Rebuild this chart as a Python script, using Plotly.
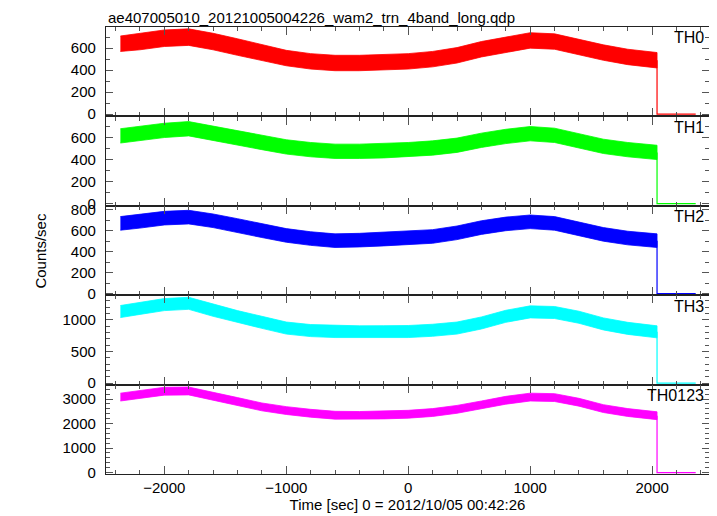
import plotly.graph_objects as go
from plotly.subplots import make_subplots

# ---- data ----
t = [-2360, -2200, -2000, -1800, -1600, -1400, -1200, -1000, -800, -600, -400, -200,
     0, 200, 400, 600, 800, 1000, 1200, 1400, 1600, 1800, 2040]

th0_hi = [710, 735, 765, 775, 735, 685, 635, 580, 550, 535, 535, 540, 550, 570, 605, 660, 700, 740, 730, 680, 630, 590, 560]
th0_lo = [570, 585, 615, 625, 585, 535, 485, 440, 410, 395, 395, 400, 410, 430, 465, 520, 560, 600, 590, 540, 490, 450, 420]

th1_hi = [680, 700, 730, 745, 705, 660, 620, 580, 555, 540, 540, 545, 555, 570, 595, 640, 675, 700, 685, 635, 585, 555, 530]
th1_lo = [550, 570, 600, 615, 575, 530, 490, 450, 425, 410, 410, 415, 425, 440, 465, 510, 545, 570, 555, 505, 455, 425, 400]

th2_hi = [735, 755, 785, 795, 760, 715, 665, 620, 590, 570, 575, 585, 595, 610, 645, 695, 730, 750, 735, 680, 630, 595, 570]
th2_lo = [605, 625, 655, 665, 630, 585, 535, 490, 460, 440, 445, 455, 465, 480, 515, 565, 600, 620, 605, 550, 500, 465, 440]

th3_hi = [1225, 1275, 1335, 1355, 1245, 1145, 1055, 965, 925, 910, 905, 907, 910, 930, 965, 1045, 1150, 1220, 1210, 1135, 1030, 960, 905]
th3_lo = [1035, 1085, 1145, 1165, 1055, 955, 865, 775, 735, 720, 715, 717, 720, 740, 775, 855, 960, 1030, 1020, 945, 840, 770, 715]

th0123_hi = [3240, 3360, 3480, 3490, 3290, 3060, 2840, 2690, 2580, 2500, 2490, 2510, 2540, 2610, 2740, 2920, 3110, 3240, 3220, 3030, 2770, 2610, 2480]
th0123_lo = [2920, 3040, 3160, 3170, 2970, 2740, 2520, 2370, 2260, 2180, 2170, 2190, 2220, 2290, 2420, 2600, 2790, 2920, 2900, 2710, 2450, 2290, 2160]

# end of the light curve: drop to zero after the last bin
t_tail = [2040, 2040, 2357]
th0_tail = [490, 0, 0]
th1_tail = [465, 0, 0]
th2_tail = [505, 0, 0]
th3_tail = [810, 0, 0]
th0123_tail = [2320, 0, 0]

names = ["TH0", "TH1", "TH2", "TH3", "TH0123"]
his = [th0_hi, th1_hi, th2_hi, th3_hi, th0123_hi]
los = [th0_lo, th1_lo, th2_lo, th3_lo, th0123_lo]
tails = [th0_tail, th1_tail, th2_tail, th3_tail, th0123_tail]
colors = ["#ff0000", "#00ff00", "#0000ff", "#00ffff", "#ff00ff"]

y_ranges = [[-20, 792], [-20, 792], [-16, 838], [-22, 1388], [-60, 3590]]
y_dtick = [200, 200, 200, 500, 1000]
y_minor = [100, 100, 100, 100, 200]

FONT = "Liberation Sans"

# the page body adds an 8 px margin, so the figure is sized 8 px smaller
W, H = 709, 508
ML, MR, MT, MB = 98, 7, 19, 40

fig = make_subplots(rows=5, cols=1, shared_xaxes=True, vertical_spacing=0)

for i in range(5):
    r = i + 1
    fig.add_trace(go.Scatter(
        x=t + t[::-1], y=his[i] + los[i][::-1], fill="toself", mode="lines",
        line=dict(color=colors[i], width=0.8), fillcolor=colors[i],
        hoverinfo="skip", showlegend=False), row=r, col=1)
    fig.add_trace(go.Scatter(
        x=t_tail, y=tails[i], mode="lines",
        line=dict(color=colors[i], width=1.2), showlegend=False), row=r, col=1)
    fig.update_yaxes(
        range=y_ranges[i], dtick=y_dtick[i], tick0=0,
        ticks="inside", ticklen=7, tickwidth=1, tickcolor="#555",
        minor=dict(dtick=y_minor[i], ticks="inside", ticklen=4, tickcolor="#555"),
        showline=True, linecolor="#222", linewidth=1.2, mirror="ticks",
        showgrid=False, zeroline=False,
        tickfont=dict(family=FONT, size=15, color="black"),
        ticklabelstandoff=6,
        row=r, col=1)
    fig.update_xaxes(
        range=[-2478, 2466], dtick=1000, tick0=0,
        ticks="inside", ticklen=8, tickwidth=1, tickcolor="#555",
        minor=dict(dtick=200, ticks="inside", ticklen=4, tickcolor="#555"),
        showline=True, linecolor="#222", linewidth=1.2, mirror="ticks",
        showgrid=False, zeroline=False,
        tickfont=dict(family=FONT, size=15, color="black"),
        row=r, col=1)
    yref = "y domain" if r == 1 else f"y{r} domain"
    fig.add_annotation(text=names[i], x=0.995, y=0.995, xref="x domain", yref=yref,
                       xanchor="right", yanchor="top", showarrow=False,
                       font=dict(family=FONT, size=16, color="black"))

fig.update_xaxes(title=dict(text="Time [sec] 0 = 2012/10/05 00:42:26",
                            font=dict(family=FONT, size=15, color="black"),
                            standoff=2), row=5, col=1)

fig.add_annotation(text="Counts/sec", x=(32 - ML) / (W - ML - MR), y=0.5,
                   xref="paper", yref="paper", xanchor="center", yanchor="middle",
                   textangle=-90, showarrow=False,
                   font=dict(family=FONT, size=15, color="black"))

# plot title as an annotation whose box starts at the top edge of the figure
fig.add_annotation(text="ae407005010_20121005004226_wam2_trn_4band_long.qdp",
                   x=(99 - ML) / (W - ML - MR), y=1, xref="paper", yref="paper",
                   xanchor="left", yanchor="top", yshift=MT, showarrow=False,
                   borderpad=0,
                   font=dict(family=FONT, size=15, color="black"))

fig.update_layout(
    width=W, height=H,
    margin=dict(l=ML, r=MR, t=MT, b=MB),
    paper_bgcolor="white", plot_bgcolor="white",
    showlegend=False,
)

fig.write_html("out.html")
